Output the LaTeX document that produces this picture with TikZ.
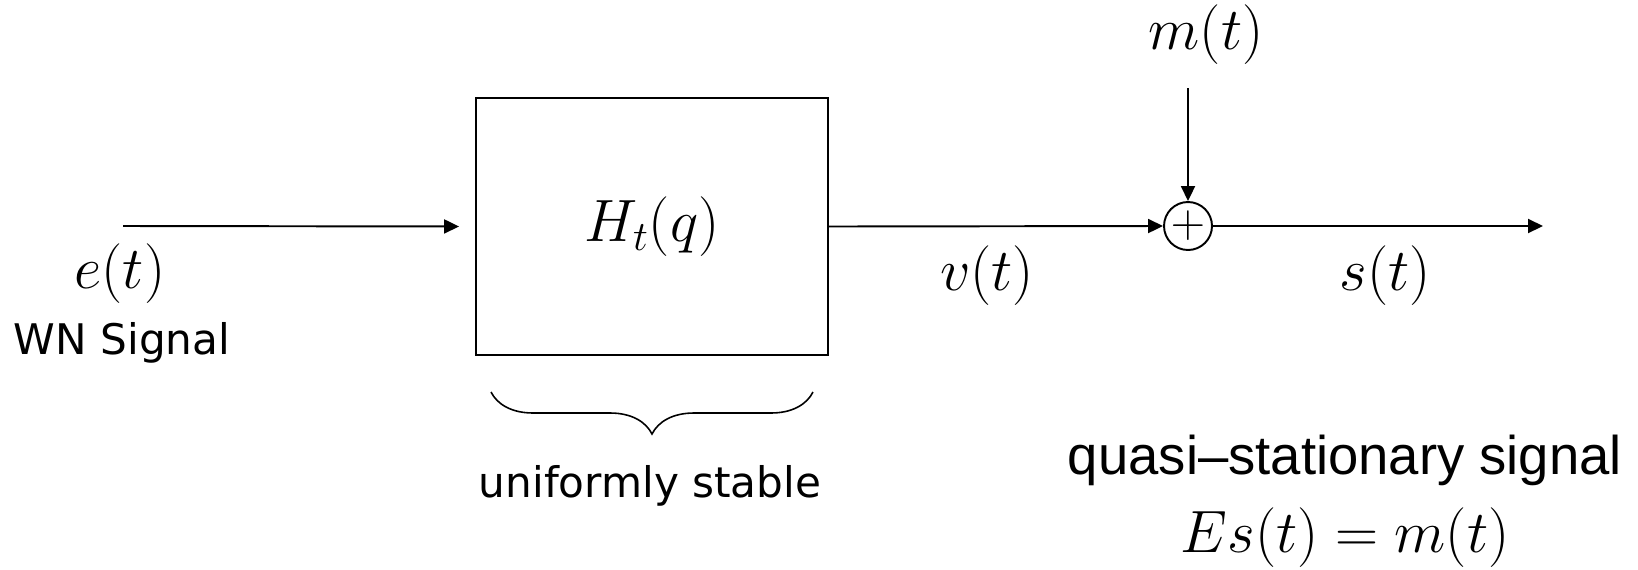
\RequirePackage{fix-cm}
\documentclass[tikz,border=0pt]{standalone}
\usepackage{fontspec}
\newfontfamily\labelfont{DejaVu Sans}
\newfontfamily\notefont{Liberation Sans}
\usepackage{tikz}
\usetikzlibrary{arrows.meta,positioning,calc,decorations.pathreplacing}

\begin{document}
\begin{tikzpicture}[x=0.02cm, y=-0.02cm,
    sys/.style={rectangle, draw, line width=1.1pt, minimum width=7.04cm, minimum height=5.14cm, inner sep=0pt},
    sumnode/.style={circle, draw, line width=1.1pt, minimum size=0.96cm, inner sep=0pt, font=\fontsize{27}{32}\selectfont},
    mathlab/.style={font=\fontsize{34}{40}\selectfont, inner sep=0pt},
    txtlab/.style={font=\labelfont\fontsize{24}{29}\selectfont, inner sep=0pt},
    notelab/.style={font=\notefont\fontsize{31}{37}\selectfont, inner sep=0pt},
    sig/.style={line width=1.1pt, -{Triangle[length=0.3cm, width=0.28cm]}}
]
\useasboundingbox (0,0) rectangle (1638,569);

% blocks
\node[sys, mathlab] (Hsys) at (652,226.5) {$H_t(q)$};
\node[sumnode] (Sum) at (1188,226) {$+$};

% free ends
\coordinate (Ein) at (123,226);
\coordinate (Sout) at (1543,226);
\coordinate (Mtop) at (1188,88);

% signals
\draw[sig, shorten >=0.32cm] (Ein) -- (Hsys.west);
\draw[sig] (Hsys.east) -- (Sum.west);
\draw[sig] (Mtop) -- (Sum.north);
\draw[sig] (Sum.east) -- (Sout);

% labels
\node[mathlab] (Elab) at (120,274) {$e(t)$};
\node[txtlab] (WNlab) at (122,343) {WN Signal};
\node[mathlab] (Vlab) at (987,276) {$v(t)$};
\node[mathlab] (Slab) at (1385,276) {$s(t)$};
\node[mathlab] (Mlab) at (1206,35) {$m(t)$};

% brace under the system
\coordinate (BrL) at (491,392);
\coordinate (BrR) at (813,392);
\draw[line width=0.9pt, decorate, decoration={brace, mirror, amplitude=0.84cm}] (BrL) -- (BrR);
\node[txtlab] (Stab) at (650,486) {uniformly stable};

\node[notelab] (QSlab) at (1345,460) {quasi–stationary signal};
\node[mathlab] (Exp) at (1345,538) {$Es(t) = m(t)$};
\end{tikzpicture}
\end{document}
